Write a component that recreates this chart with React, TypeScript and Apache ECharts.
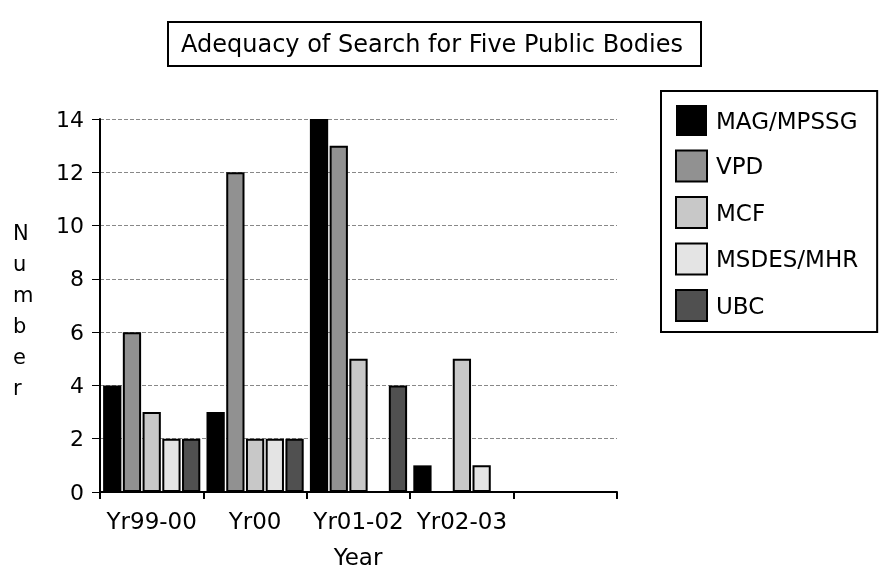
import React, { useEffect, useRef } from "react";
import * as echarts from "echarts";

const categories = ["Yr99-00", "Yr00", "Yr01-02", "Yr02-03", ""];
const seriesNames = ["MAG/MPSSG", "VPD", "MCF", "MSDES/MHR", "UBC"];
const magValues = [4, 3, 14, 1, 0];
const vpdValues = [6, 12, 13, 0, 0];
const mcfValues = [3, 2, 5, 5, 0];
const msdesValues = [2, 2, 0, 1, 0];
const ubcValues = [2, 2, 4, 0, 0];
const colors = ["#000000", "#919191", "#c8c8c8", "#e4e4e4", "#505050"];
const yTicks = { min: 0, max: 14, interval: 2 };

const FONT = "DejaVu Sans";

export default function App() {
  const ref = useRef<HTMLDivElement>(null);
  useEffect(() => {
    if (!ref.current) return;
    const chart = echarts.init(ref.current, null, { renderer: "svg" });
    const allValues = [magValues, vpdValues, mcfValues, msdesValues, ubcValues];
    chart.setOption({
      animation: false,
      textStyle: { fontFamily: FONT, color: "#000" },
      title: {
        text: "Adequacy of Search for Five Public Bodies",
        left: 168,
        top: 22,
        padding: [10, 18, 10, 13],
        borderColor: "#000",
        borderWidth: 2,
        textStyle: { fontFamily: FONT, fontSize: 24, fontWeight: "normal", color: "#000" },
      },
      legend: {
        orient: "vertical",
        left: 661,
        top: 91,
        padding: [14, 19, 10, 14],
        borderColor: "#000",
        borderWidth: 2,
        itemWidth: 31,
        itemHeight: 31,
        itemGap: 13.5,
        icon: "rect",
        textStyle: { fontFamily: FONT, fontSize: 23, color: "#000", padding: [0, 0, 0, 4] },
        data: seriesNames,
      },
      grid: { left: 100, right: 262, top: 119, bottom: 79, containLabel: false },
      xAxis: {
        type: "category",
        data: categories,
        axisLine: { lineStyle: { color: "#000", width: 2 } },
        axisTick: { show: true, length: 7, lineStyle: { color: "#000", width: 2 } },
        axisLabel: { fontFamily: FONT, fontSize: 23, color: "#000", margin: 17, interval: 0 },
      },
      yAxis: {
        type: "value",
        min: yTicks.min,
        max: yTicks.max,
        interval: yTicks.interval,
        axisLine: { show: true, lineStyle: { color: "#000", width: 2 } },
        axisTick: { show: true, length: 8, lineStyle: { color: "#000", width: 1 } },
        axisLabel: { fontFamily: FONT, fontSize: 22, color: "#000", margin: 16 },
        splitLine: { show: true, lineStyle: { color: "#888", type: [4, 2], width: 1 } },
      },
      graphic: [
        {
          type: "text",
          left: 13,
          top: 217,
          style: {
            text: "N\nu\nm\nb\ne\nr",
            fontFamily: FONT,
            fontSize: 21,
            lineHeight: 31,
            fill: "#000",
            align: "center",
          },
        },
        {
          type: "text",
          x: 358,
          y: 545,
          style: {
            text: "Year",
            fontFamily: FONT,
            fontSize: 23,
            fill: "#000",
            align: "center",
            verticalAlign: "top",
          },
        },
      ],
      series: seriesNames.map((name, i) => ({
        name,
        type: "bar",
        data: allValues[i],
        barGap: "8%",
        barCategoryGap: "6%",
        itemStyle: {
          color: colors[i],
          borderColor: "#000",
          borderWidth: i === 0 ? 0 : 2,
        },
      })),
    });
    return () => chart.dispose();
  }, []);
  return (
    <div
      ref={ref}
      style={{ position: "fixed", left: 0, top: 0, width: 879, height: 571 }}
    />
  );
}
